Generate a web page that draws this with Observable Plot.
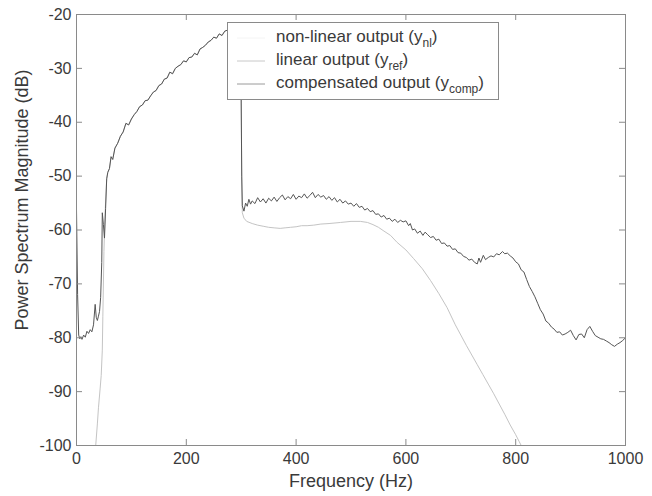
<!DOCTYPE html>
<html><head><meta charset="utf-8">
<script src="https://cdn.jsdelivr.net/npm/d3@7"></script>
<script src="https://cdn.jsdelivr.net/npm/@observablehq/plot@0.6"></script>
<style>
html,body{margin:0;padding:0;background:#fff;}
#chart svg{display:block;}
</style></head><body><div id="chart"></div>
<script>
// ---- data ----
const xTicks = [0, 200, 400, 600, 800, 1000];
const yTicks = [-100, -90, -80, -70, -60, -50, -40, -30, -20];
const seriesNames = ["non-linear output", "linear output", "compensated output"];
const seriesSubs = ["nl", "ref", "comp"];

// shared passband (linear and compensated overlap here)
const passFreq = [55,57,60,63,66,70,75,80,85,90,95,100,105,110,115,120,125,130,135,140,145,150,155,160,165,170,175,180,185,190,195,200,205,210,215,220,225,230,235,240,245,250,255,260,265,270,275,280,285,290,295,299];
const passDb = [-50.5,-49.3,-48.6,-46.4,-46.9,-44.8,-43.9,-42.6,-41.8,-40.2,-40.5,-39.4,-38.6,-38.0,-37.1,-36.8,-36.0,-35.9,-35.1,-34.4,-34.1,-33.2,-32.9,-32.0,-31.8,-30.7,-31.0,-30.0,-29.6,-29.3,-28.6,-28.8,-28.0,-27.9,-27.2,-27.5,-26.4,-26.1,-25.7,-25.1,-24.8,-24.2,-24.4,-23.6,-23.9,-23.1,-22.9,-22.6,-22.9,-22.2,-22.0,-21.8];

// compensated output (y_comp)
const compLowFreq = [0,2,4,6,8,10,13,16,19,22,25,28,31,34,36,38,40,42,44,46,47,49,51,53];
const compLowDb = [-56,-72,-79.5,-80.2,-79.8,-80.3,-79.5,-79.9,-78.8,-79.2,-78.5,-78.9,-77.6,-73.8,-76.2,-76.8,-76.0,-75.1,-72.5,-66,-56.8,-59,-61.5,-56];
const compStopFreq = [301,302,305,308,311,314,317,320,325,330,335,340,345,350,355,360,365,370,375,380,385,390,395,400,405,410,415,420,425,430,435,440,445,450,455,460,465,470,475,480,485,490,495,500,505,510,515,520,525,530,535,540,545,550,555,560,565,570,575,580,585,590,595,600,605,608,612,616,621,626,631,635,639,645,650,655,660,665,670,675,680,685,690,695,700,705,710,715,720,725,730,733,736,741,745,750,755,760,765,770,776,780,785,790,795,800,805,810,815,820,825,830,835,840,845,850,855,860,865,870,875,880,885,890,895,900,905,910,915,920,925,930,935,940,945,950,955,960,965,970,975,980,985,990,995,1000];
const compStopDb = [-50,-55.5,-56.5,-55.0,-55.6,-54.3,-55.2,-54.6,-55.1,-54.0,-54.8,-54.2,-55.0,-54.1,-54.6,-53.9,-54.7,-54.0,-53.5,-54.4,-53.8,-54.2,-53.4,-54.3,-53.7,-54.0,-53.3,-54.1,-53.6,-53.0,-54.0,-53.4,-53.9,-53.6,-54.3,-53.8,-54.5,-54.0,-54.8,-54.3,-55.0,-54.6,-55.2,-55.0,-55.6,-55.1,-55.8,-55.6,-56.3,-56.0,-56.6,-56.4,-57.1,-57.0,-57.6,-57.3,-58.0,-57.8,-58.4,-58.0,-58.6,-58.2,-58.5,-58.3,-59.2,-58.8,-60.0,-59.8,-60.6,-60.2,-61.0,-60.4,-60.8,-61.4,-61.2,-61.9,-61.7,-62.5,-62.4,-63.0,-62.9,-63.6,-63.5,-64.2,-64.3,-64.9,-65.1,-65.6,-65.4,-66.0,-66.3,-65.2,-66.0,-64.7,-65.5,-65.1,-64.8,-65.0,-64.4,-64.6,-64.0,-64.4,-64.3,-64.8,-65.2,-65.9,-66.3,-67.4,-67.8,-69.2,-70.5,-71.4,-72.4,-73.6,-74.8,-75.6,-76.9,-77.3,-78.0,-78.4,-79.0,-78.9,-79.5,-79.3,-79.0,-78.6,-79.6,-80.4,-79.4,-79.3,-80.0,-78.5,-77.9,-78.8,-79.6,-79.9,-80.2,-80.3,-80.6,-80.9,-81.3,-81.6,-81.2,-80.9,-80.5,-80.0];

// linear output (y_ref)
const linLowFreq = [35,38,40,43,45,47,48,50,52];
const linLowDb = [-100,-96,-93,-89.5,-87,-82.3,-76,-64,-57];
const linStopFreq = [301,302,305,310,320,330,340,350,360,371,380,390,400,410,420,432,445,460,481,500,517,530,540,550,560,572,584,600,614,630,645,660,675,690,700,710,720,730,740,750,760,770,780,790,800,806,810];
const linStopDb = [-50,-56.8,-57.8,-58.4,-58.8,-59.1,-59.3,-59.5,-59.6,-59.7,-59.6,-59.5,-59.4,-59.2,-59.2,-59.1,-58.9,-58.8,-58.6,-58.4,-58.4,-58.6,-59.0,-59.5,-60.2,-61.0,-62.3,-63.7,-65.3,-67.2,-69.4,-71.8,-74.4,-77.6,-79.5,-81.4,-83.2,-85.0,-86.8,-88.6,-90.4,-92.3,-94.2,-96.2,-98.0,-99.2,-100];

const rows = (fs, ds) => fs.map((f, i) => ({freq: f, db: ds[i]}));
const linear = [...rows(linLowFreq, linLowDb), ...rows(passFreq, passDb), ...rows(linStopFreq, linStopDb)];
const comp = [...rows(compLowFreq, compLowDb), ...rows(passFreq, passDb), ...rows(compStopFreq, compStopDb)];

// ---- layout ----
const W = 652, H = 496, mL = 76, mR = 27, mT = 14, mB = 51;
const innerW = W - mL - mR, innerH = H - mT - mB;
const frameColor = "#8a8a8a";
const textColor = "#3a3a3a";
const FONT = "'Liberation Sans', Arial, Helvetica, sans-serif";

const plot = Plot.plot({
  width: W, height: H,
  marginLeft: mL, marginRight: mR, marginTop: mT, marginBottom: mB,
  style: {fontFamily: FONT, fontSize: "16px", color: textColor, background: "#fff"},
  x: {domain: [0, 1000]},
  y: {domain: [-100, -20]},
  marks: [
    Plot.line(linear, {x: "freq", y: "db", stroke: "#c4c4c4", strokeWidth: 1, clip: true}),
    Plot.line(comp, {x: "freq", y: "db", stroke: "#555", strokeWidth: 1, clip: true}),
    Plot.frame({stroke: frameColor, strokeWidth: 1}),
    Plot.tickX(xTicks, {x: d => d, insetTop: innerH - 6, stroke: frameColor}),
    Plot.tickX(xTicks, {x: d => d, insetBottom: innerH - 6, stroke: frameColor}),
    Plot.tickY(yTicks, {y: d => d, insetRight: innerW - 6, stroke: frameColor}),
    Plot.tickY(yTicks, {y: d => d, insetLeft: innerW - 6, stroke: frameColor}),
    Plot.axisX(xTicks, {tickSize: 0, tickPadding: 7, label: null, tickFormat: d => String(d), fontSize: 16}),
    Plot.axisY(yTicks, {tickSize: 0, tickPadding: 5, label: null, tickFormat: d => String(d), fontSize: 16}),
    Plot.text(["Frequency (Hz)"], {frameAnchor: "bottom", dy: 41, fontSize: 18, fill: textColor, textAnchor: "middle"}),
    Plot.text(["Power Spectrum Magnitude (dB)"], {frameAnchor: "left", dx: -54, dy: -30, rotate: -90, fontSize: 18, fill: textColor, textAnchor: "middle"})
  ]
});
document.getElementById("chart").appendChild(plot);

// ---- legend (inside the axes, top middle) ----
const svg = d3.select(plot);
const lg = svg.append("g").attr("font-family", FONT).attr("font-size", 17).attr("fill", textColor).attr("text-anchor", "start");
lg.append("rect").attr("x", 227.5).attr("y", 22.5).attr("width", 271).attr("height", 77)
  .attr("fill", "#fff").attr("stroke", frameColor);
const swatch = ["#f4f4f4", "#c8c8c8", "#9a9a9a"];
const rowY = [36, 59, 82];
seriesNames.forEach((name, i) => {
  lg.append("line").attr("x1", 237).attr("x2", 265).attr("y1", rowY[i] + 2).attr("y2", rowY[i] + 2)
    .attr("stroke", swatch[i]).attr("stroke-width", 1);
  const t = lg.append("text").attr("x", 276).attr("y", rowY[i] + 6).attr("text-anchor", "start");
  t.append("tspan").text(name + " (y");
  t.append("tspan").attr("font-size", 12).attr("dy", 5).text(seriesSubs[i]);
  t.append("tspan").attr("dy", -5).text(")");
});
</script>
</body></html>
